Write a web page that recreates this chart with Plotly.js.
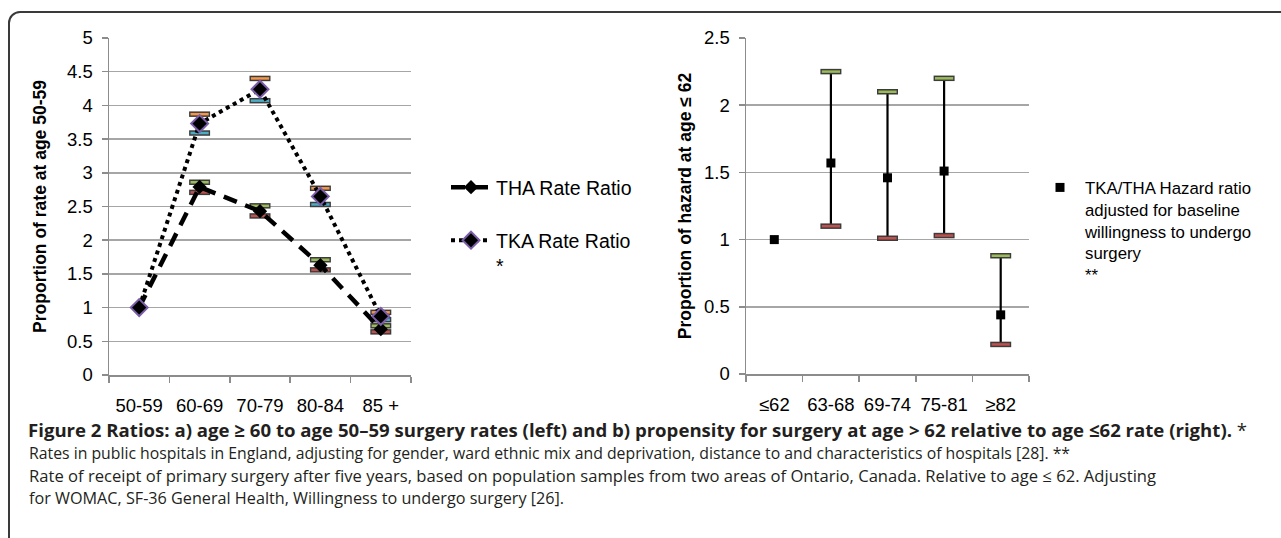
<!DOCTYPE html>
<html>
<head>
<meta charset="utf-8">
<script src="https://cdn.plot.ly/plotly-3.0.1.min.js"></script>
<style>
html,body{margin:0;padding:0;background:#fff;overflow:hidden;}
#wrap{position:relative;width:1281px;height:538px;}
#frame{position:absolute;left:8px;top:11px;width:1400px;height:700px;border:2px solid #3a3a3a;border-top-left-radius:12px;box-sizing:border-box;}
#chart{position:absolute;left:0;top:0;width:1281px;height:538px;}
</style>
</head>
<body>
<div id="wrap"><div id="frame"></div><div id="chart"></div></div>
<script>
// ---- data (left panel) ----
const ageLeft = ['50-59', '60-69', '70-79', '80-84', '85 +'];
const thaRatio = [1, 2.79, 2.43, 1.63, 0.68];
const thaHigh  = [null, 2.86, 2.51, 1.71, 0.73];
const thaLow   = [null, 2.71, 2.36, 1.56, 0.64];
const tkaRatio = [1, 3.73, 4.24, 2.65, 0.87];
const tkaHigh  = [null, 3.87, 4.40, 2.77, 0.93];
const tkaLow   = [null, 3.59, 4.07, 2.53, 0.82];
// ---- data (right panel) ----
const ageRight = ['≤62', '63-68', '69-74', '75-81', '≥82'];
const hazard     = [1, 1.57, 1.46, 1.51, 0.44];
const hazardHigh = [null, 2.25, 2.10, 2.20, 0.88];
const hazardLow  = [null, 1.10, 1.01, 1.03, 0.22];
// ---- text ----
const thaName = 'THA Rate Ratio';
const tkaName = 'TKA Rate Ratio<br>*';
const hrName = 'TKA/THA Hazard ratio<br>adjusted for baseline<br>willingness to undergo<br>surgery<br>**';
const captionTitle = '<b>Figure 2 Ratios: a) age ≥ 60 to age 50–59 surgery rates (left) and b) propensity for surgery at age &gt; 62 relative to age ≤62 rate (right).</b> *';
const captionLines = [
  'Rates in public hospitals in England, adjusting for gender, ward ethnic mix and deprivation, distance to and characteristics of hospitals [28]. **',
  'Rate of receipt of primary surgery after five years, based on population samples from two areas of Ontario, Canada. Relative to age ≤ 62. Adjusting',
  'for WOMAC, SF-36 General Health, Willingness to undergo surgery [26].'
];
const captionSizes = [15.8, 16.6, 16.2];

const W = 1281, H = 538;
const px = x => x / W;
const py = y => 1 - y / H;
const FONT = 'Liberation Sans, Arial, sans-serif';
const CAPFONT = 'Open Sans, sans-serif';

function caps(x, y, color, xa, ya) {
  return [
    {x: x, y: y, xaxis: xa, yaxis: ya, type: 'scatter', mode: 'markers', showlegend: false, hoverinfo: 'skip',
     marker: {symbol: 'line-ew', size: 15, line: {color: '#3c3c3c', width: 5.5}}},
    {x: x, y: y, xaxis: xa, yaxis: ya, type: 'scatter', mode: 'markers', showlegend: false, hoverinfo: 'skip',
     marker: {symbol: 'line-ew', size: 13, line: {color: color, width: 2.5}}}
  ];
}

const traces = [];
traces.push(...caps(ageLeft, tkaHigh, '#f79646', 'x', 'y'));
traces.push(...caps(ageLeft, tkaLow, '#4bacc6', 'x', 'y'));
traces.push(...caps(ageLeft, thaHigh, '#9bbb59', 'x', 'y'));
traces.push(...caps(ageLeft, thaLow, '#c0504d', 'x', 'y'));
traces.push({
  x: ageLeft, y: thaRatio, xaxis: 'x', yaxis: 'y', type: 'scatter', mode: 'lines+markers', name: thaName,
  legend: 'legend',
  line: {color: '#000', width: 4.5, dash: '14px,9px'},
  marker: {symbol: 'diamond', size: 11, color: '#000'}
});
traces.push({
  x: ageLeft, y: tkaRatio, xaxis: 'x', yaxis: 'y', type: 'scatter', mode: 'lines+markers', name: tkaName,
  legend: 'legend2',
  line: {color: '#000', width: 4, dash: 'dot'},
  marker: {symbol: 'diamond', size: 13, color: '#000', line: {color: '#7b5ea7', width: 2}}
});
traces.push({
  x: ageRight, y: hazard, xaxis: 'x2', yaxis: 'y2', type: 'scatter', mode: 'markers', name: hrName,
  legend: 'legend3',
  marker: {symbol: 'square', size: 9, color: '#000'},
  error_y: {type: 'data', symmetric: false,
    array: hazard.map((v, i) => hazardHigh[i] == null ? 0 : hazardHigh[i] - v),
    arrayminus: hazard.map((v, i) => hazardLow[i] == null ? 0 : v - hazardLow[i]),
    color: '#000', thickness: 2.2, width: 0}
});
traces.push(...caps(ageRight, hazardHigh, '#9bbb59', 'x2', 'y2'));
traces.push(...caps(ageRight, hazardLow, '#c0504d', 'x2', 'y2'));

const axisCommon = {
  showline: true, linecolor: '#8c8c8c', linewidth: 1.5,
  ticks: 'outside', ticklen: 6, tickcolor: '#8c8c8c', tickwidth: 1.5,
  tickfont: {family: FONT, size: 18.5, color: '#000'},
  zeroline: false, fixedrange: true
};
const xCommon = Object.assign({}, axisCommon, {type: 'category', range: [-0.5, 4.5], showgrid: false,
  tickson: 'boundaries', ticklabelstandoff: 13, tickangle: 0});
const yCommon = Object.assign({}, axisCommon, {showgrid: true, gridcolor: '#a6a6a6', gridwidth: 1.5,
  dtick: 0.5, tick0: 0, ticklabelstandoff: 5});

const legendCommon = {
  xanchor: 'left', yanchor: 'top', bgcolor: 'rgba(0,0,0,0)', borderwidth: 0,
  font: {family: FONT, size: 19.5, color: '#000'}, itemwidth: 40, valign: 'top',
  itemclick: false, itemdoubleclick: false
};

const annotations = [{
  xref: 'paper', yref: 'paper', x: px(26), y: py(429), xanchor: 'left', yanchor: 'middle',
  showarrow: false, text: captionTitle, align: 'left',
  font: {family: CAPFONT, size: 18.6, color: '#231f20'}
}].concat(captionLines.map((t, i) => ({
  xref: 'paper', yref: 'paper', x: px(27), y: py(453 + i * 22.5), xanchor: 'left', yanchor: 'middle',
  showarrow: false, text: t, align: 'left',
  font: {family: CAPFONT, size: captionSizes[i], color: '#231f20'}
})));

const layout = {
  width: W, height: H,
  margin: {l: 0, r: 0, t: 0, b: 0, pad: 0},
  paper_bgcolor: 'rgba(0,0,0,0)', plot_bgcolor: 'rgba(0,0,0,0)',
  font: {family: FONT, color: '#000'},
  xaxis: Object.assign({}, xCommon, {domain: [px(109), px(411)], anchor: 'y'}),
  yaxis: Object.assign({}, yCommon, {domain: [py(375), py(38)], range: [0, 5], anchor: 'x',
    title: {text: '<b>Proportion of rate at age 50-59</b>', font: {family: FONT, size: 17.5, color: '#000'}, standoff: 16}}),
  xaxis2: Object.assign({}, xCommon, {domain: [px(746), px(1029)], anchor: 'y2'}),
  yaxis2: Object.assign({}, yCommon, {domain: [py(374), py(38)], range: [0, 2.5], anchor: 'x2',
    title: {text: '<b>Proportion of hazard at age ≤ 62</b>', font: {family: FONT, size: 17.5, color: '#000'}, standoff: 8}}),
  legend: Object.assign({}, legendCommon, {x: px(446), y: py(168)}),
  legend2: Object.assign({}, legendCommon, {x: px(446), y: py(221)}),
  legend3: Object.assign({}, legendCommon, {x: px(1035), y: py(170), font: {family: FONT, size: 16.8, color: '#000'}}),
  annotations: annotations
};

Plotly.newPlot('chart', traces, layout, {staticPlot: true, displayModeBar: false});
</script>
</body>
</html>
